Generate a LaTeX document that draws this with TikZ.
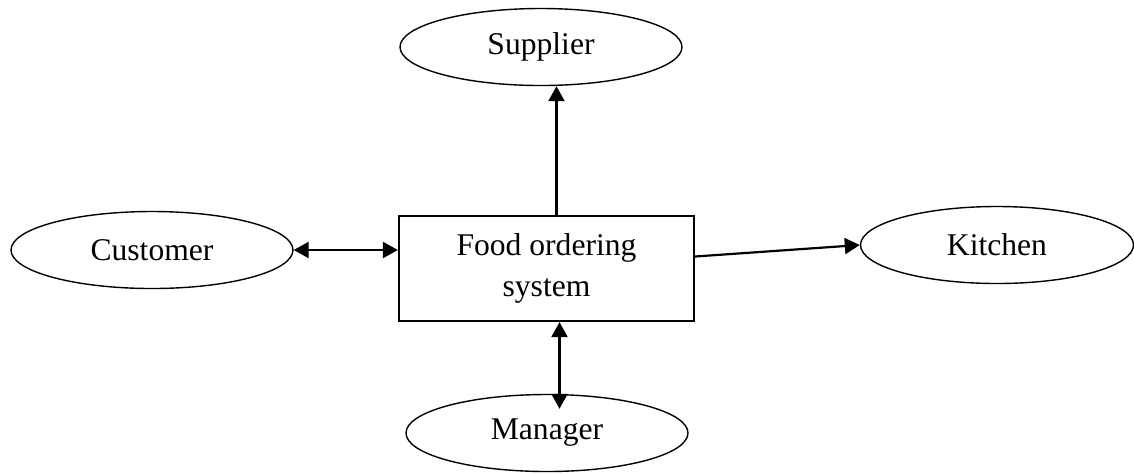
\documentclass[tikz,border=0pt]{standalone}
\usepackage{fontspec}
\setmainfont{Liberation Serif}
\usetikzlibrary{shapes.geometric,arrows.meta}

\begin{document}
\begin{tikzpicture}[x=0.5pt,y=-0.5pt,
    actor/.style={draw,ellipse,line width=0.7pt,inner sep=0pt,minimum width=141pt,minimum height=38.5pt,font=\fontsize{15.8}{19}\selectfont},
    process/.style={draw,rectangle,line width=1.1pt,minimum width=147.5pt,minimum height=52.5pt,align=center,font=\fontsize{15.8}{20.5}\selectfont},
    flow/.style={line width=1.1pt,-{Triangle[length=7.5pt,width=8pt]}},
    dflow/.style={line width=1.1pt,{Triangle[length=7.5pt,width=8pt]}-{Triangle[length=7.5pt,width=8pt]}}]
    \useasboundingbox (0,0) rectangle (1134,473);

    % System
    \node[process] (sys) at (546.5,268.5) {Food ordering\\system};

    % External entities
    \node[actor] (sup) at (541,47) {Supplier};
    \node[actor] (cust) at (152,250) {Customer};
    \node[actor,minimum width=136.5pt] (kit) at (997,245) {Kitchen};
    \node[actor] (man) at (547,433) {Manager};

    % Data flows
    \draw[flow] ([xshift=5pt]sys.north) -- ([xshift=5pt]sys.north |- sup.south);
    \draw[dflow] (cust.east) -- (sys.west |- cust.east);
    \draw[flow] ([yshift=6pt]sys.east) -- (kit.west);
    \draw[dflow] ([xshift=6.5pt]sys.south) -- ([xshift=6.5pt,yshift=-7.5pt]sys.south |- man.north);
\end{tikzpicture}
\end{document}
